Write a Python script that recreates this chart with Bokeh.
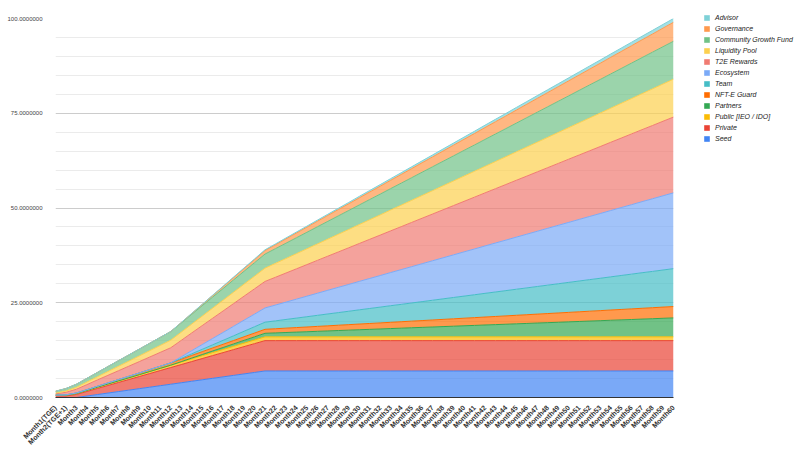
from bokeh.plotting import figure
from bokeh.models import (ColumnDataSource, Range1d, FixedTicker, PrintfTickFormatter,
                          Legend, LegendItem)
from bokeh.embed import file_html
from bokeh.resources import INLINE

months = ["Month1(TGE)", "Month2(TGE+1)", "Month3", "Month4", "Month5", "Month6", "Month7",
          "Month8", "Month9", "Month10", "Month11", "Month12", "Month13", "Month14", "Month15",
          "Month16", "Month17", "Month18", "Month19", "Month20", "Month21", "Month22", "Month23",
          "Month24", "Month25", "Month26", "Month27", "Month28", "Month29", "Month30", "Month31",
          "Month32", "Month33", "Month34", "Month35", "Month36", "Month37", "Month38", "Month39",
          "Month40", "Month41", "Month42", "Month43", "Month44", "Month45", "Month46", "Month47",
          "Month48", "Month49", "Month50", "Month51", "Month52", "Month53", "Month54", "Month55",
          "Month56", "Month57", "Month58", "Month59", "Month60"]

seed = [0.0, 0.0, 0.0, 0.39, 0.78, 1.17, 1.56, 1.94, 2.33, 2.72, 3.11, 3.50, 3.89, 4.28, 4.67,
        5.06, 5.44, 5.83, 6.22, 6.61, 7.00, 7.0, 7.0, 7.0, 7.0, 7.0, 7.0, 7.0, 7.0, 7.0,
        7.0, 7.0, 7.0, 7.0, 7.0, 7.0, 7.0, 7.0, 7.0, 7.0, 7.0, 7.0, 7.0, 7.0, 7.0,
        7.0, 7.0, 7.0, 7.0, 7.0, 7.0, 7.0, 7.0, 7.0, 7.0, 7.0, 7.0, 7.0, 7.0, 7.0]

private = [0.4, 0.4, 0.8, 1.2, 1.6, 2.0, 2.4, 2.8, 3.2, 3.6, 4.0, 4.4, 4.8, 5.2, 5.6,
           6.0, 6.4, 6.8, 7.2, 7.6, 8.0, 8.0, 8.0, 8.0, 8.0, 8.0, 8.0, 8.0, 8.0, 8.0,
           8.0, 8.0, 8.0, 8.0, 8.0, 8.0, 8.0, 8.0, 8.0, 8.0, 8.0, 8.0, 8.0, 8.0, 8.0,
           8.0, 8.0, 8.0, 8.0, 8.0, 8.0, 8.0, 8.0, 8.0, 8.0, 8.0, 8.0, 8.0, 8.0, 8.0]

public = [0.2, 0.2, 0.24, 0.28, 0.33, 0.37, 0.41, 0.45, 0.49, 0.54, 0.58, 0.62, 0.66, 0.71, 0.75,
          0.79, 0.83, 0.87, 0.92, 0.96, 1.0, 1.0, 1.0, 1.0, 1.0, 1.0, 1.0, 1.0, 1.0, 1.0,
          1.0, 1.0, 1.0, 1.0, 1.0, 1.0, 1.0, 1.0, 1.0, 1.0, 1.0, 1.0, 1.0, 1.0, 1.0,
          1.0, 1.0, 1.0, 1.0, 1.0, 1.0, 1.0, 1.0, 1.0, 1.0, 1.0, 1.0, 1.0, 1.0, 1.0]

partners = [0.0, 0.0, 0.0, 0.0, 0.0, 0.0, 0.0, 0.0, 0.0, 0.0, 0.0, 0.0,
            0.10, 0.21, 0.31, 0.42, 0.52, 0.63, 0.73, 0.83, 0.94, 1.04, 1.15, 1.25,
            1.35, 1.46, 1.56, 1.67, 1.77, 1.88, 1.98, 2.08, 2.19, 2.29, 2.40, 2.50,
            2.60, 2.71, 2.81, 2.92, 3.02, 3.13, 3.23, 3.33, 3.44, 3.54, 3.65, 3.75,
            3.85, 3.96, 4.06, 4.17, 4.27, 4.38, 4.48, 4.58, 4.69, 4.79, 4.90, 5.00]

nfte_guard = [0.05, 0.10, 0.15, 0.20, 0.25, 0.30, 0.35, 0.40, 0.45, 0.50, 0.55, 0.60,
              0.65, 0.70, 0.75, 0.80, 0.85, 0.90, 0.95, 1.00, 1.05, 1.10, 1.15, 1.20,
              1.25, 1.30, 1.35, 1.40, 1.45, 1.50, 1.55, 1.60, 1.65, 1.70, 1.75, 1.80,
              1.85, 1.90, 1.95, 2.00, 2.05, 2.10, 2.15, 2.20, 2.25, 2.30, 2.35, 2.40,
              2.45, 2.50, 2.55, 2.60, 2.65, 2.70, 2.75, 2.80, 2.85, 2.90, 2.95, 3.00]

team = [0.0, 0.0, 0.0, 0.0, 0.0, 0.0, 0.0, 0.0, 0.0, 0.0, 0.0, 0.0,
        0.21, 0.42, 0.63, 0.83, 1.04, 1.25, 1.46, 1.67, 1.88, 2.08, 2.29, 2.50,
        2.71, 2.92, 3.13, 3.33, 3.54, 3.75, 3.96, 4.17, 4.38, 4.58, 4.79, 5.00,
        5.21, 5.42, 5.63, 5.83, 6.04, 6.25, 6.46, 6.67, 6.88, 7.08, 7.29, 7.50,
        7.71, 7.92, 8.13, 8.33, 8.54, 8.75, 8.96, 9.17, 9.38, 9.58, 9.79, 10.00]

ecosystem = [0.0, 0.0, 0.0, 0.0, 0.0, 0.0, 0.0, 0.0, 0.0, 0.0, 0.0, 0.0,
             0.42, 0.83, 1.25, 1.67, 2.08, 2.50, 2.92, 3.33, 3.75, 4.17, 4.58, 5.00,
             5.42, 5.83, 6.25, 6.67, 7.08, 7.50, 7.92, 8.33, 8.75, 9.17, 9.58, 10.00,
             10.42, 10.83, 11.25, 11.67, 12.08, 12.50, 12.92, 13.33, 13.75, 14.17, 14.58, 15.00,
             15.42, 15.83, 16.25, 16.67, 17.08, 17.50, 17.92, 18.33, 18.75, 19.17, 19.58, 20.00]

t2e_rewards = [0.33, 0.67, 1.00, 1.33, 1.67, 2.00, 2.33, 2.67, 3.00, 3.33, 3.67, 4.00,
               4.33, 4.67, 5.00, 5.33, 5.67, 6.00, 6.33, 6.67, 7.00, 7.33, 7.67, 8.00,
               8.33, 8.67, 9.00, 9.33, 9.67, 10.00, 10.33, 10.67, 11.00, 11.33, 11.67, 12.00,
               12.33, 12.67, 13.00, 13.33, 13.67, 14.00, 14.33, 14.67, 15.00, 15.33, 15.67, 16.00,
               16.33, 16.67, 17.00, 17.33, 17.67, 18.00, 18.33, 18.67, 19.00, 19.33, 19.67, 20.00]

liquidity_pool = [0.17, 0.33, 0.50, 0.67, 0.83, 1.00, 1.17, 1.33, 1.50, 1.67, 1.83, 2.00,
                  2.17, 2.33, 2.50, 2.67, 2.83, 3.00, 3.17, 3.33, 3.50, 3.67, 3.83, 4.00,
                  4.17, 4.33, 4.50, 4.67, 4.83, 5.00, 5.17, 5.33, 5.50, 5.67, 5.83, 6.00,
                  6.17, 6.33, 6.50, 6.67, 6.83, 7.00, 7.17, 7.33, 7.50, 7.67, 7.83, 8.00,
                  8.17, 8.33, 8.50, 8.67, 8.83, 9.00, 9.17, 9.33, 9.50, 9.67, 9.83, 10.00]

community_growth = [0.50, 0.66, 0.82, 0.98, 1.14, 1.31, 1.47, 1.63, 1.79, 1.95, 2.11, 2.27,
                    2.43, 2.59, 2.75, 2.92, 3.08, 3.24, 3.40, 3.56, 3.72, 3.88, 4.04, 4.20,
                    4.36, 4.53, 4.69, 4.85, 5.01, 5.17, 5.33, 5.49, 5.65, 5.81, 5.97, 6.14,
                    6.30, 6.46, 6.62, 6.78, 6.94, 7.10, 7.26, 7.42, 7.58, 7.75, 7.91, 8.07,
                    8.23, 8.39, 8.55, 8.71, 8.87, 9.03, 9.19, 9.36, 9.52, 9.68, 9.84, 10.00]

governance = [0.0, 0.0, 0.0, 0.0, 0.0, 0.0, 0.0, 0.0, 0.0, 0.0, 0.0, 0.0,
              0.10, 0.21, 0.31, 0.42, 0.52, 0.63, 0.73, 0.83, 0.94, 1.04, 1.15, 1.25,
              1.35, 1.46, 1.56, 1.67, 1.77, 1.88, 1.98, 2.08, 2.19, 2.29, 2.40, 2.50,
              2.60, 2.71, 2.81, 2.92, 3.02, 3.13, 3.23, 3.33, 3.44, 3.54, 3.65, 3.75,
              3.85, 3.96, 4.06, 4.17, 4.27, 4.38, 4.48, 4.58, 4.69, 4.79, 4.90, 5.00]

advisor = [0.0, 0.0, 0.0, 0.0, 0.0, 0.0, 0.0, 0.0, 0.0, 0.0, 0.0, 0.0,
           0.02, 0.04, 0.06, 0.08, 0.10, 0.13, 0.15, 0.17, 0.19, 0.21, 0.23, 0.25,
           0.27, 0.29, 0.31, 0.33, 0.35, 0.38, 0.40, 0.42, 0.44, 0.46, 0.48, 0.50,
           0.52, 0.54, 0.56, 0.58, 0.60, 0.63, 0.65, 0.67, 0.69, 0.71, 0.73, 0.75,
           0.77, 0.79, 0.81, 0.83, 0.85, 0.88, 0.90, 0.92, 0.94, 0.96, 0.98, 1.00]

series_names = ["Seed", "Private", "Public [IEO / IDO]", "Partners", "NFT-E Guard", "Team",
                "Ecosystem", "T2E Rewards", "Liquidity Pool", "Community Growth Fund",
                "Governance", "Advisor"]
series_values = [seed, private, public, partners, nfte_guard, team, ecosystem, t2e_rewards,
                 liquidity_pool, community_growth, governance, advisor]
colors = ["#4285F4", "#EA4335", "#FBBC04", "#34A853", "#FF6D01", "#46BDC6",
          "#7BAAF7", "#F07B72", "#FCD04F", "#71C287", "#FF994D", "#7ED1D7"]

keys = ["s%d" % i for i in range(len(series_names))]
data = {"x": list(range(len(months)))}
for k, v in zip(keys, series_values):
    data[k] = v
source = ColumnDataSource(data)

p = figure(frame_width=618, frame_height=379,
           x_range=Range1d(0, len(months) - 1), y_range=Range1d(0, 100),
           output_backend="svg", toolbar_location=None,
           min_border_left=55, min_border_top=18, min_border_right=10, min_border_bottom=40)
p.outline_line_color = None
p.background_fill_color = "white"

p.varea_stack(stackers=keys, x="x", color=colors, fill_alpha=0.7, source=source)
p.vline_stack(stackers=keys, x="x", color=colors, line_width=1, source=source)

yt = FixedTicker(ticks=[0, 25, 50, 75, 100],
                 minor_ticks=[5, 10, 15, 20, 30, 35, 40, 45, 55, 60, 65, 70, 80, 85, 90, 95])
p.yaxis.ticker = yt
p.ygrid.ticker = yt
p.ygrid.grid_line_color = "#cccccc"
p.ygrid.minor_grid_line_color = "#ebebeb"
p.xgrid.visible = False
p.yaxis.formatter = PrintfTickFormatter(format="%.7f")
p.yaxis.axis_line_color = None
p.yaxis.major_tick_line_color = None
p.yaxis.minor_tick_line_color = None
p.yaxis.major_label_text_font_size = "6px"
p.yaxis.major_label_text_color = "#444444"
p.yaxis.major_label_text_font = "Liberation Sans"
p.yaxis.major_label_standoff = 7

p.xaxis.ticker = FixedTicker(ticks=list(range(len(months))))
p.xaxis.major_label_overrides = {i: m for i, m in enumerate(months)}
p.xaxis.major_label_orientation = 0.785398
p.xaxis.major_tick_line_color = None
p.xaxis.minor_tick_line_color = None
p.xaxis.axis_line_color = "#333333"
p.xaxis.axis_line_width = 1
p.xaxis.major_label_text_font_size = "7px"
p.xaxis.major_label_text_font = "Liberation Sans"
p.xaxis.major_label_text_font_style = "bold"
p.xaxis.major_label_text_color = "#333333"
p.xaxis.major_label_standoff = 3

nan = float("nan")
items = []
for name, c in reversed(list(zip(series_names, colors))):
    r = p.quad(left=[nan], right=[nan], top=[nan], bottom=[nan], fill_color=c, line_color=None)
    items.append(LegendItem(label=name, renderers=[r]))

legend = Legend(items=items, location=(30, 255), orientation="vertical",
                glyph_width=7, glyph_height=7, label_height=8, spacing=3,
                label_standoff=5, padding=0, margin=0,
                label_text_font="Liberation Sans", label_text_font_style="italic",
                label_text_font_size="7px", label_text_color="#222222",
                border_line_color=None, background_fill_alpha=0)
p.add_layout(legend, "right")

open("out.html", "w").write(file_html(p, INLINE))
